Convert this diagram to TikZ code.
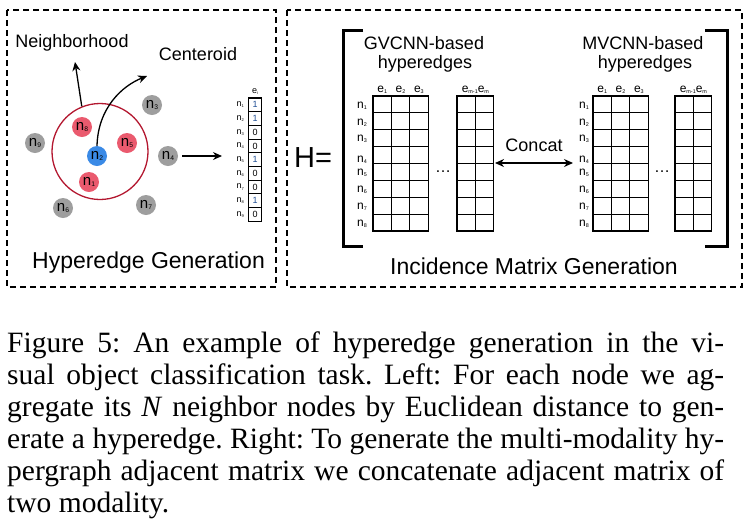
\documentclass[tikz,border=0pt]{standalone}
\usepackage{fontspec}
\setmainfont{Liberation Serif}
\setsansfont{Liberation Sans}
\usepackage{graphicx}
\usetikzlibrary{arrows.meta}
\definecolor{nred}{HTML}{EA5A6E}
\definecolor{nblue}{HTML}{3A8AE6}
\definecolor{ngray}{HTML}{9E9E9E}
\definecolor{ringred}{HTML}{B3172F}
\definecolor{vblue}{HTML}{1F4E94}
\newcommand\lsub[1]{\raisebox{-0.12em}{\scalebox{0.45}{#1}}}
\newcommand\fsz[1]{\fontsize{#1}{#1}\selectfont}
\newcommand\gridblk[2]{%
  \foreach \i in {0,...,#2} \draw[gridline] ({#1+\i*18.35},96) -- ({#1+\i*18.35},231);
  \foreach \j in {0,...,8} \draw[gridline] (#1,{96+\j*16.875}) -- ({#1+#2*18.35},{96+\j*16.875});
}
\frenchspacing
\begin{document}
\begin{tikzpicture}[x=1pt,y=-1pt,
  every node/.style={inner sep=0pt},
  panel/.style={draw, line width=1.2pt, dash pattern=on 6pt off 4pt},
  nd/.style={circle, minimum size=20pt, font=\sffamily\fsz{15}},
  arr/.style={line width=1.3pt, -{Stealth[length=9pt,width=8pt]}},
  darr/.style={line width=1.3pt, {Stealth[length=9pt,width=8pt]}-{Stealth[length=9pt,width=8pt]}},
  gridline/.style={line width=1.1pt, line cap=rect},
  vcell/.style={draw, line width=1.1pt, minimum width=13pt, minimum height=13.7pt, font=\sffamily\fsz{9}},
  small/.style={font=\sffamily\fsz{12}},
  tiny/.style={font=\sffamily\fsz{9}},
  lbl/.style={font=\sffamily\fsz{18}},
  big/.style={font=\sffamily\fsz{23}},
  bracket/.style={line width=3pt},
  capline/.style={anchor=base west, font=\fsz{29.5}}
]
\useasboundingbox (0,0) rectangle (744,523);
% panels
\draw[panel] (7,10) rectangle (276,287);
\draw[panel] (287,10) rectangle (742,287);

% ---------- left panel ----------
\node[draw=ringred, line width=1.3pt, circle, minimum size=96pt] (ring) at (100,151.5) {};
\node[nd, fill=nred]  (n8) at (82,127) {n\lsub{8}};
\node[nd, fill=nred]  (n5) at (127,143) {n\lsub{5}};
\node[nd, fill=nblue] (n2) at (97,156) {n\lsub{2}};
\node[nd, fill=nred]  (n1) at (89,182) {n\lsub{1}};
\node[nd, fill=ngray] (n3) at (152,105) {n\lsub{3}};
\node[nd, fill=ngray] (n9) at (35,143) {n\lsub{9}};
\node[nd, fill=ngray] (n4) at (168,156) {n\lsub{4}};
\node[nd, fill=ngray] (n6) at (63,208) {n\lsub{6}};
\node[nd, fill=ngray] (n7) at (146,205) {n\lsub{7}};

\node[lbl, anchor=base] (nbh) at (72,47) {Neighborhood};
\node[lbl, anchor=base] (cen) at (198,60) {Centeroid};
\coordinate (nbtip) at (75,62);
\coordinate (cetip) at (147,76);
\draw[arr] (ring.112) -- (nbtip);
\draw[arr] (n2.north) .. controls (98,108) and (122,86) .. (cetip);

% vector
\foreach \v [count=\k] in {1,1,0,0,1,0,0,1,0} {
  \node[vcell] (v\k) at (255,{91.15+\k*13.7}) {\ifnum\v=1 \color{vblue}\fi\v};
  \node[tiny, anchor=east] (vl\k) at (244,{91.15+\k*13.7}) {n\lsub{\k}};
}
\node[tiny, anchor=base] (ei) at (255,93) {e\lsub{i}};
\coordinate (vtip) at (222,156);
\path (n4.east) ++(4,0) coordinate (n4out);
\draw[arr] (n4out) -- (vtip);

\node[big, anchor=base] (hg) at (148.5,268) {Hyperedge Generation};

% ---------- right panel ----------
\node[font=\sffamily\fsz{29}, anchor=base] (Heq) at (313,167.5) {H=};
\draw[bracket] (363,30) -- (343,30) -- (343,246) -- (363,246);
\draw[bracket] (705,30) -- (727,30) -- (727,246) -- (705,246);

\node[lbl, anchor=base] (gv1) at (424,49) {GVCNN-based};
\node[lbl, anchor=base] (gv2) at (425,68) {hyperedges};
\node[lbl, anchor=base] (mv1) at (643,49) {MVCNN-based};
\node[lbl, anchor=base] (mv2) at (645,68) {hyperedges};

\gridblk{373}{3}
\gridblk{457}{2}
\gridblk{593}{3}
\gridblk{675}{2}

% column labels
\foreach \c [count=\k] in {0,1,2} {
  \node[small, anchor=base] (ga\k) at ({373+9.175+\c*18.35},92) {e\lsub{\k}};
  \node[small, anchor=base] (ma\k) at ({593+9.175+\c*18.35},92) {e\lsub{\k}};
}
\node[small, anchor=base] (gb) at (475.35,92) {e\lsub{m-1}e\lsub{m}};
\node[small, anchor=base] (mb) at (693.35,92) {e\lsub{m-1}e\lsub{m}};

% row labels
\foreach \y [count=\k] in {106,123,139,160,173,190,207,224} {
  \node[small, anchor=east] (gr\k) at (367,\y) {n\lsub{\k}};
  \node[small, anchor=east] (mr\k) at (589,\y) {n\lsub{\k}};
}
\node[font=\sffamily\fsz{16}] (gdots) at (443,172) {\ldots};
\node[font=\sffamily\fsz{16}] (mdots) at (662,172) {\ldots};

\node[lbl, anchor=base] (cc) at (534,151) {Concat};
\coordinate (cl) at (495,163);
\coordinate (cr) at (573,163);
\draw[darr] (cl) -- (cr);

\node[big, anchor=base] (img) at (534,274) {Incidence Matrix Generation};

% ---------- caption ----------
\node[capline] (c1) at (7,352) {\makebox[717pt][s]{Figure 5: An example of hyperedge generation in the vi-}};
\node[capline] (c2) at (7,384) {\makebox[717pt][s]{sual object classification task. Left: For each node we ag-}};
\node[capline] (c3) at (7,416) {\makebox[717pt][s]{gregate its \textit{N} neighbor nodes by Euclidean distance to gen-}};
\node[capline] (c4) at (7,448) {\makebox[717pt][s]{erate a hyperedge. Right: To generate the multi-modality hy-}};
\node[capline] (c5) at (7,480) {\makebox[717pt][s]{pergraph adjacent matrix we concatenate adjacent matrix of}};
\node[capline] (c6) at (7,512) {two modality.};
\end{tikzpicture}
\end{document}
